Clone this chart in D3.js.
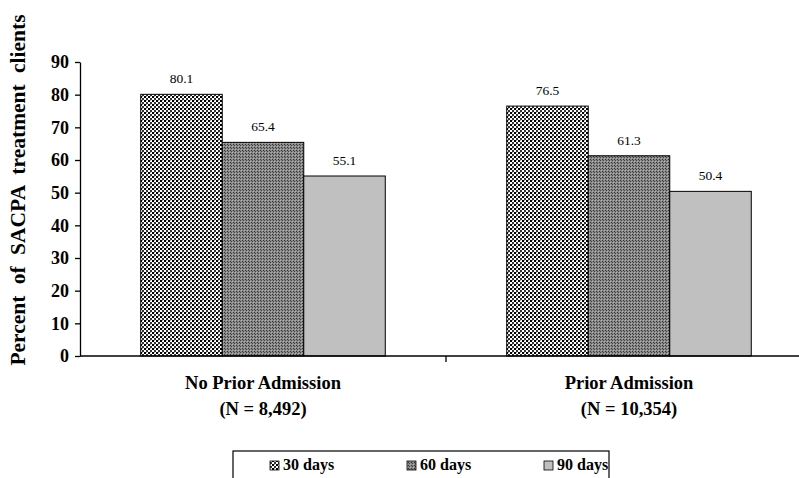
<!DOCTYPE html>
<html><head><meta charset="utf-8">
<script src="https://cdn.jsdelivr.net/npm/d3@7/dist/d3.min.js"></script>
<style>body{margin:0;background:#fff}svg{display:block;font-family:"Liberation Serif","Times New Roman",serif}</style>
</head><body>
<svg id="c" width="799" height="478"></svg>
<script>
const categories = ["No Prior Admission", "Prior Admission"];
const categorySub = ["(N = 8,492)", "(N = 10,354)"];
const seriesNames = ["30 days", "60 days", "90 days"];
const values30 = [80.1, 76.5];
const values60 = [65.4, 61.3];
const values90 = [55.1, 50.4];
const yTicks = [0, 10, 20, 30, 40, 50, 60, 70, 80, 90];
const yTitle = "Percent of SACPA treatment clients";

const seriesValues = [values30, values60, values90];
const svg = d3.select("#c");
const defs = svg.append("defs");
const p1 = defs.append("pattern").attr("id","p30").attr("width",4).attr("height",4).attr("patternUnits","userSpaceOnUse");
p1.append("rect").attr("width",4).attr("height",4).attr("fill","#fff");
p1.append("rect").attr("x",0).attr("y",0).attr("width",2).attr("height",2).attr("fill","#000");
p1.append("rect").attr("x",2).attr("y",2).attr("width",2).attr("height",2).attr("fill","#333");
p1.append("rect").attr("x",2).attr("y",0).attr("width",1).attr("height",1).attr("fill","#aaa");
const p2 = defs.append("pattern").attr("id","p60").attr("width",3).attr("height",3).attr("patternUnits","userSpaceOnUse");
p2.append("rect").attr("width",3).attr("height",3).attr("fill","#8a8a8a");
p2.append("rect").attr("x",0).attr("y",0).attr("width",1).attr("height",1).attr("fill","#333");
p2.append("rect").attr("x",1).attr("y",1).attr("width",1).attr("height",1).attr("fill","#444");
p2.append("rect").attr("x",2).attr("y",2).attr("width",1).attr("height",1).attr("fill","#b0b0b0");
const fills = ["url(#p30)", "url(#p60)", "#c0c0c0"];

const x0 = 80, x1 = 812, yTop = 62, yBot = 356;
const x = d3.scaleBand().domain(categories).range([x0, x1]).paddingInner(0).paddingOuter(0);
const xs = d3.scaleBand().domain(seriesNames).range([0, x.bandwidth()]).paddingInner(0).paddingOuter(0.745);
const y = d3.scaleLinear().domain([0, 90]).range([yBot, yTop]);

const ya = svg.append("g").attr("transform",`translate(${x0},0)`)
  .call(d3.axisLeft(y).tickValues(yTicks).tickSize(5).tickSizeOuter(0).tickPadding(6));
ya.select(".domain").attr("stroke","#000").attr("stroke-width",1.3);
ya.selectAll(".tick line").attr("stroke","#000").attr("stroke-width",1.3);
ya.selectAll("text").attr("font-family","Liberation Serif").attr("font-size",18).attr("font-weight","bold").attr("fill","#000").attr("dy","0.33em");

const groups = svg.append("g").selectAll("g").data(categories).join("g")
  .attr("transform", d => `translate(${x(d)},0)`);
seriesNames.forEach((s, si) => {
  groups.append("rect")
    .attr("x", xs(s)).attr("width", xs.bandwidth())
    .attr("y", (d, ci) => y(seriesValues[si][ci]))
    .attr("height", (d, ci) => yBot - y(seriesValues[si][ci]))
    .attr("fill", fills[si]).attr("stroke","#000").attr("stroke-width",1);
  groups.append("text")
    .attr("x", xs(s) + xs.bandwidth()/2)
    .attr("y", (d, ci) => y(seriesValues[si][ci]) - 11)
    .attr("text-anchor","middle").attr("font-size",13.5).attr("fill","#000")
    .text((d, ci) => seriesValues[si][ci].toFixed(1));
});

svg.append("line").attr("x1",x0).attr("x2",x1).attr("y1",yBot).attr("y2",yBot).attr("stroke","#000").attr("stroke-width",1.3);
[x0 + x.bandwidth()].forEach(t => svg.append("line").attr("x1",t).attr("x2",t).attr("y1",yBot).attr("y2",yBot+6).attr("stroke","#000").attr("stroke-width",1.3));

categories.forEach((c, i) => {
  const cx = x(c) + x.bandwidth()/2;
  svg.append("text").attr("x",cx).attr("y",389).attr("text-anchor","middle").attr("font-size",18.5).attr("font-weight","bold").text(c);
  svg.append("text").attr("x",cx).attr("y",415).attr("text-anchor","middle").attr("font-size",18.5).attr("font-weight","bold").text(categorySub[i]);
});

svg.append("text").attr("transform",`translate(25,190) rotate(-90)`).attr("text-anchor","middle")
  .attr("font-size",21.5).attr("font-weight","bold").attr("word-spacing",6).text(yTitle);

svg.append("rect").attr("x",233).attr("y",451).attr("width",376).attr("height",40).attr("fill","#fff").attr("stroke","#000").attr("stroke-width",1.2);
const legX = [270, 407, 544];
seriesNames.forEach((s, i) => {
  svg.append("rect").attr("x",legX[i]).attr("y",461).attr("width",9).attr("height",9).attr("fill",fills[i]).attr("stroke","#000").attr("stroke-width",0.8);
  svg.append("text").attr("x",legX[i]+13).attr("y",470).attr("font-size",16).attr("font-weight","bold").text(s);
});
</script>
</body></html>
